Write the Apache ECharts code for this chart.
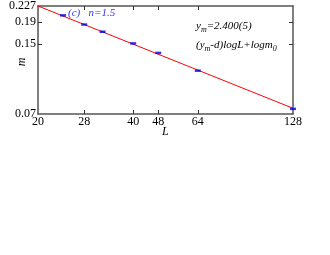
<!DOCTYPE html>
<html><head><meta charset="utf-8">
<script src="https://cdn.jsdelivr.net/npm/echarts@6/dist/echarts.min.js"></script>
<style>html,body{margin:0;padding:0;background:#fff}#c{width:330px;height:255px}</style>
</head><body><div id="c"></div>
<script>
// Data
var sizesL = [24, 28, 32, 40, 48, 64, 128];
var orderM = [0.2050, 0.1855, 0.1715, 0.1510, 0.1362, 0.1122, 0.0740];
var fitL = [20, 128];
var fitM = [0.227, 0.0745];
var xTickLabels = [20, 28, 40, 48, 64, 128];
var xMinorTicks = [28, 40, 48, 64];
var yTickLabels = ['0.227', '0.19', '0.15', '0.07'];
var yInnerTicks = [0.19, 0.15];
var xRange = [20, 128];
var yRange = [0.07, 0.227];

var ln = Math.log;
var serif = 'Liberation Serif';
var axisCol = '#555';

function xlab(v){var e=Math.exp(v);var best=xTickLabels[0];xTickLabels.forEach(function(t){if(Math.abs(t-e)<Math.abs(best-e))best=t;});return String(best);}
function ylab(v){var e=Math.exp(v);var best=yTickLabels[0];yTickLabels.forEach(function(t){if(Math.abs(parseFloat(t)-e)<Math.abs(parseFloat(best)-e))best=t;});return best;}

function xAx(pos, labels){
  return {type:'value', position:pos, min:ln(xRange[0]), max:ln(xRange[1]),
    splitLine:{show:false},
    axisLine:{show:true,onZero:false,lineStyle:{color:axisCol,width:1.5}},
    axisTick:{show:true,inside:true,length:4,customValues:xMinorTicks.map(ln),lineStyle:{color:'#333',width:1}},
    axisLabel:{show:labels,customValues:xTickLabels.map(ln),formatter:xlab,color:'#000',fontFamily:serif,fontSize:12,margin:2,showMinLabel:true,showMaxLabel:true}
  };
}
function yAx(pos, labels){
  return {type:'value', position:pos, min:ln(yRange[0]), max:ln(yRange[1]),
    splitLine:{show:false},
    axisLine:{show:true,onZero:false,lineStyle:{color:axisCol,width:1.5}},
    axisTick:{show:true,inside:true,length:4,customValues:yInnerTicks.map(ln),lineStyle:{color:'#333',width:1}},
    axisLabel:{show:labels,customValues:yTickLabels.map(function(s){return ln(parseFloat(s));}),formatter:ylab,color:'#000',fontFamily:serif,fontSize:12,margin:2,showMinLabel:true,showMaxLabel:true}
  };
}

var chart = echarts.init(document.getElementById('c'), null, {renderer:'canvas'});
chart.setOption({
  animation:false,
  backgroundColor:'#fff',
  grid:{left:38, top:5, right:37, bottom:141},
  xAxis:[xAx('bottom',true), xAx('top',false)],
  yAxis:[yAx('left',true), yAx('right',false)],
  series:[
    {type:'line', data:fitL.map(function(l,i){return [ln(l), ln(fitM[i])];}),
     showSymbol:false, lineStyle:{color:'#ff0000',width:1}, z:2},
    {type:'scatter', data:sizesL.map(function(l,i){return [ln(l), ln(orderM[i])];}),
     symbol:'rect', symbolSize:[6,2.5], itemStyle:{color:'#0000ee'}, z:3}
  ],
  graphic:[
    {type:'text', left:162, top:126, style:{text:'L', font:'italic 12px '+serif, fill:'#000'}},
    {type:'text', x:22, y:62, rotation:Math.PI/2, style:{text:'m', font:'italic 12px '+serif, fill:'#000', align:'center', verticalAlign:'middle'}},
    {type:'text', left:68, top:8, style:{text:'(c)   n=1.5', font:'italic 11px '+serif, fill:'#3333ff'}},
    {type:'text', left:196, top:21, style:{
      text:'{a|y}{s|m}{a|=2.400(5)}',
      rich:{a:{fontFamily:serif,fontStyle:'italic',fontSize:11,fill:'#000'},s:{fontFamily:serif,fontStyle:'italic',fontSize:8,fill:'#000',padding:[7,0,0,0]}}}},
    {type:'text', left:196, top:40, style:{
      text:'{a|(y}{s|m}{a|-d)logL+logm}{s|0}',
      rich:{a:{fontFamily:serif,fontStyle:'italic',fontSize:11,fill:'#000'},s:{fontFamily:serif,fontStyle:'italic',fontSize:8,fill:'#000',padding:[7,0,0,0]}}}}
  ]
});
</script></body></html>
